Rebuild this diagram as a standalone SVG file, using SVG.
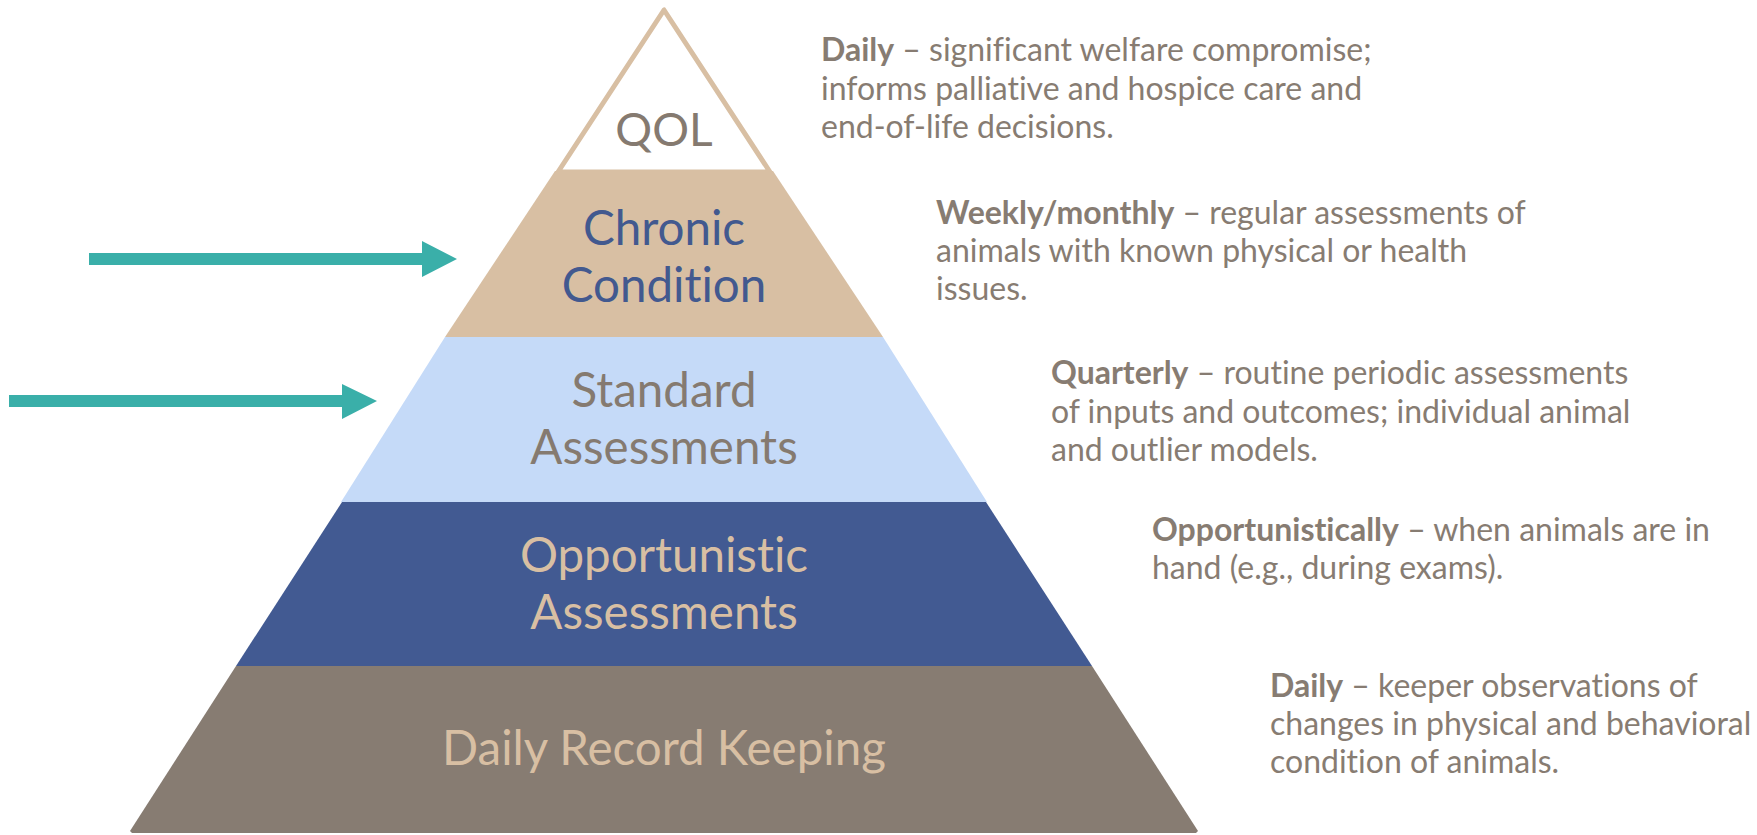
<svg xmlns="http://www.w3.org/2000/svg" width="1757" height="835" viewBox="0 0 1757 835">
<defs>
<style>
.lbl{font-family:Lato,"Open Sans",sans-serif;font-size:47.5px;text-anchor:middle;font-variant-ligatures:none}
.desc{font-family:Lato,"Open Sans",sans-serif;font-size:32px;fill:#877C72;font-variant-ligatures:none}
.desc .b{font-weight:bold}
.arrow{fill:#3AAFA9}
</style>
</defs>
<rect width="1757" height="835" fill="#FFFFFF"/>
<g id="layer-qol">
<polygon points="664,10 558,172 770,172" fill="#FFFFFF" stroke="#D8BFA3" stroke-width="5" stroke-linejoin="round"/>
<text class="lbl" x="664" y="146" fill="#857A70" style="font-size:46px">QOL</text>
</g>
<g id="layer-chronic">
<polygon points="555,171 773,171 883,337 445,337" fill="#D8BFA3"/>
<text class="lbl" x="664" y="245" fill="#42598F">Chronic</text>
<text class="lbl" x="664" y="302" fill="#42598F">Condition</text>
</g>
<g id="layer-standard">
<polygon points="445,337 883,337 987,502 341,502" fill="#C5DAF8"/>
<text class="lbl" x="664" y="407" fill="#857A70">Standard</text>
<text class="lbl" x="664" y="464" fill="#857A70">Assessments</text>
</g>
<g id="layer-opportunistic">
<polygon points="342,502 986,502 1092,666 236,666" fill="#425A92"/>
<text class="lbl" x="664" y="572" fill="#D8BFA3">Opportunistic</text>
<text class="lbl" x="664" y="629" fill="#D8BFA3">Assessments</text>
</g>
<g id="layer-daily">
<polygon points="236,666 1092,666 1198,831 1196,833 132,833 130,831" fill="#877C72"/>
<text class="lbl" x="664" y="765" fill="#D8BFA3">Daily Record Keeping</text>
</g>
<g id="desc-qol">
<text class="desc" x="821" y="61"><tspan class="b">Daily</tspan> – significant welfare compromise;</text>
<text class="desc" x="821" y="100">informs palliative and hospice care and</text>
<text class="desc" x="821" y="138">end-of-life decisions.</text>
</g>
<g id="desc-chronic">
<text class="desc" x="936" y="224"><tspan class="b">Weekly/monthly</tspan> – regular assessments of</text>
<text class="desc" x="936" y="262">animals with known physical or health</text>
<text class="desc" x="936" y="300">issues.</text>
</g>
<g id="desc-standard">
<text class="desc" x="1051" y="384"><tspan class="b">Quarterly</tspan> – routine periodic assessments</text>
<text class="desc" x="1051" y="423">of inputs and outcomes; individual animal</text>
<text class="desc" x="1051" y="461">and outlier models.</text>
</g>
<g id="desc-opportunistic">
<text class="desc" x="1152" y="541"><tspan class="b">Opportunistically</tspan> – when animals are in</text>
<text class="desc" x="1152" y="579">hand (e.g., during exams).</text>
</g>
<g id="desc-daily">
<text class="desc" x="1270" y="697"><tspan class="b">Daily</tspan> – keeper observations of</text>
<text class="desc" x="1270" y="735">changes in physical and behavioral</text>
<text class="desc" x="1270" y="773">condition of animals.</text>
</g>
<g id="connectors">
<polygon class="arrow" points="89,253 422,253 422,241 457,259 422,277 422,265 89,265"/>
<polygon class="arrow" points="9,395 342,395 342,384 377,401 342,419 342,407 9,407"/>
</g>
</svg>
